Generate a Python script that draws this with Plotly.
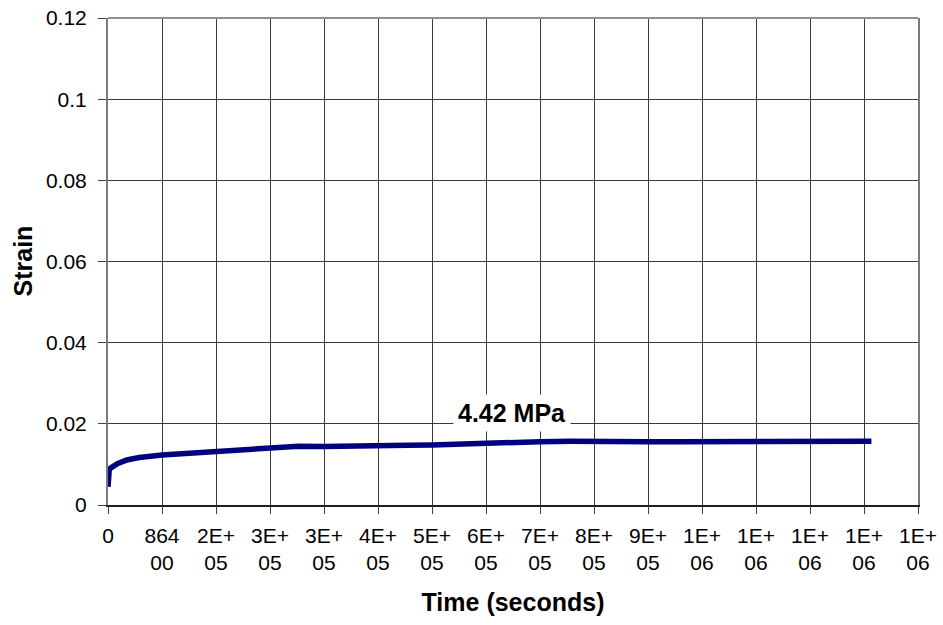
import plotly.graph_objects as go

# Creep test record: strain versus elapsed time at 4.42 MPa
time_s = [0, 300, 800, 2000, 4000, 8500, 15000, 30000, 50000, 86400,
          131000, 172800, 220000, 259200, 285000, 305000, 345600, 390000,
          432000, 480000, 518400, 560000, 604800, 625000, 691200, 740000,
          777600, 820000, 864000, 910000, 950400, 1000000, 1043000, 1080000,
          1123200, 1170000, 1200000, 1221500]
strain = [0.0045, 0.0066, 0.0080, 0.0087, 0.0091, 0.0096, 0.0102, 0.0111,
          0.0117, 0.0123, 0.0128, 0.0132, 0.0135, 0.0139, 0.0142, 0.0145,
          0.0144, 0.0146, 0.0147, 0.0147, 0.0148, 0.0150, 0.0154, 0.0156,
          0.0156, 0.0157, 0.0156, 0.0157, 0.0156, 0.0156, 0.0156, 0.0156,
          0.0154, 0.0155, 0.0156, 0.0157, 0.0156, 0.0157]

x_tickvals = [i * 86400 for i in range(16)]
x_ticktext = ["0", "864<br>00", "2E+<br>05", "3E+<br>05", "3E+<br>05",
              "4E+<br>05", "5E+<br>05", "6E+<br>05", "7E+<br>05", "8E+<br>05",
              "9E+<br>05", "1E+<br>06", "1E+<br>06", "1E+<br>06", "1E+<br>06",
              "1E+<br>06"]
y_tickvals = [0, 0.02, 0.04, 0.06, 0.08, 0.1, 0.12]
y_ticktext = ["0", "0.02", "0.04", "0.06", "0.08", "0.1", "0.12"]

stress_label = "4.42 MPa"
label_time = 646000
label_strain = 0.0227

FONT = "Liberation Sans, Arial, sans-serif"

fig = go.Figure()
fig.add_trace(go.Scatter(
    x=time_s, y=strain, mode="lines",
    line=dict(color="#000080", width=5.5),
    showlegend=False,
))

fig.add_annotation(
    x=label_time, y=label_strain, text="<b>%s</b>" % stress_label,
    showarrow=False, bgcolor="white", borderpad=4,
    font=dict(family=FONT, size=25, color="black"),
)

# y-axis title placed as rotated text to the left of the tick labels
fig.add_annotation(
    xref="paper", yref="paper", x=0, y=0.5, xshift=-86,
    xanchor="center", yanchor="middle", textangle=-90,
    text="<b>Strain</b>", showarrow=False,
    font=dict(family=FONT, size=25, color="black"),
)

fig.update_layout(
    width=943, height=625,
    margin=dict(l=108, r=25, t=18, b=120),
    paper_bgcolor="white", plot_bgcolor="white",
    font=dict(family=FONT, size=21, color="black"),
    xaxis=dict(
        range=[0, 15 * 86400], tickmode="array",
        tickvals=x_tickvals, ticktext=x_ticktext,
        showgrid=True, gridcolor="#3a3a3a", gridwidth=1,
        showline=True, linecolor="#202020", linewidth=1.5,
        mirror=False, ticks="outside", ticklen=7, tickcolor="#404040",
        zeroline=False, tickangle=0, automargin=False,
        ticklabelstandoff=4,
        tickfont=dict(family=FONT, size=21, color="black"),
        title=dict(text="<b>Time (seconds)</b>", standoff=20,
                   font=dict(family=FONT, size=25, color="black")),
    ),
    yaxis=dict(
        range=[0, 0.12], tickmode="array",
        tickvals=y_tickvals, ticktext=y_ticktext,
        showgrid=True, gridcolor="#3a3a3a", gridwidth=1,
        showline=True, linecolor="#7a7a7a", linewidth=2,
        mirror=True, ticks="outside", ticklen=8, tickcolor="#404040",
        zeroline=False, ticklabelstandoff=7, automargin=False,
        tickfont=dict(family=FONT, size=21, color="black"),
    ),
    shapes=[dict(type="line", xref="paper", yref="paper", x0=0, x1=1,
                 y0=1, y1=1, line=dict(color="#909090", width=2))],
)

fig.write_html("out.html")
